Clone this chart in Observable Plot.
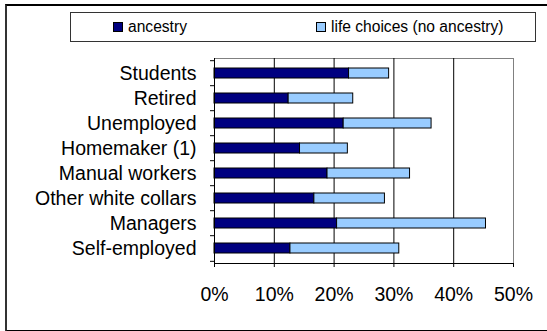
<!DOCTYPE html>
<html>
<head>
<meta charset="utf-8">
<script src="https://cdn.jsdelivr.net/npm/d3@7"></script>
<script src="https://cdn.jsdelivr.net/npm/@observablehq/plot@0.6"></script>
<style>
  html, body { margin: 0; padding: 0; background: #fff; overflow: hidden; }
  #wrap { position: relative; width: 547px; height: 331px; font-family: "Liberation Sans", Arial, sans-serif; }
  #outer { position: absolute; left: 5px; top: 4px; width: 600px; height: 324px; border-left: 2px solid #333; border-top: 2px solid #000; border-bottom: 2px solid #000; }
  #legend { position: absolute; left: 70px; top: 12px; width: 466px; height: 30px; border: 1px solid #333; box-sizing: border-box; font-size: 15.6px; }
  .item { position: absolute; top: 0; height: 28px; display: flex; align-items: center; white-space: nowrap; }
  .sw { width: 8px; height: 8px; border: 1px solid #000; margin-right: 5px; }
  #chart { position: absolute; left: 0; top: 0; }
</style>
</head>
<body>
<div id="wrap">
  <div id="outer"></div>
  <div id="chart"></div>
  <div id="legend"></div>
</div>
<script>
const categories = ["Students", "Retired", "Unemployed", "Homemaker (1)", "Manual workers", "Other white collars", "Managers", "Self-employed"];
const ancestry = [0.225, 0.124, 0.216, 0.143, 0.189, 0.167, 0.205, 0.127];
const lifeChoices = [0.067, 0.108, 0.147, 0.080, 0.138, 0.118, 0.249, 0.182];
const seriesNames = ["ancestry", "life choices (no ancestry)"];
const seriesColors = ["#000080", "#99CCFF"];
const xTicks = [0, 0.1, 0.2, 0.3, 0.4, 0.5];

const data = [];
categories.forEach((c, i) => data.push({category: c, series: seriesNames[0], value: ancestry[i]}));
categories.forEach((c, i) => data.push({category: c, series: seriesNames[1], value: lifeChoices[i]}));

const step = (331 - 58 - 68) / categories.length;

const chart = Plot.plot({
  width: 547,
  height: 331,
  marginLeft: 214,
  marginRight: 34,
  marginTop: 58,
  marginBottom: 68,
  style: {fontFamily: "Liberation Sans, Arial, sans-serif", fontSize: "19.5px", color: "#000", background: "transparent"},
  x: {domain: [0, 0.5], ticks: xTicks, tickFormat: d3.format(".0%"), tickSize: 4, tickPadding: 20, label: null},
  y: {domain: categories, paddingInner: 0.62, paddingOuter: 0.31, tickSize: 0, tickPadding: 18, label: null},
  color: {domain: seriesNames, range: seriesColors},
  marks: [
    Plot.frame({stroke: "#808080"}),
    Plot.ruleX(xTicks.slice(1, -1), {stroke: "#000", strokeWidth: 1}),
    Plot.barX(data, {y: "category", x: "value", fill: "series", stroke: "#000", strokeWidth: 1}),
    Plot.ruleX([0], {stroke: "#000"}),
    Plot.frame({anchor: "bottom", stroke: "#000"}),
    Plot.ruleY(categories, {y: d => d, x1: 0, x2: 0, insetLeft: -4, dy: -step / 2, stroke: "#000"}),
    Plot.ruleY(categories.slice(-1), {y: d => d, x1: 0, x2: 0, insetLeft: -4, dy: step / 2, stroke: "#000"})
  ]
});
document.getElementById("chart").appendChild(chart);

const legend = document.getElementById("legend");
const lefts = [42, 245];
seriesNames.forEach((s, i) => {
  const it = document.createElement("div");
  it.className = "item";
  it.style.left = lefts[i] + "px";
  const sw = document.createElement("div");
  sw.className = "sw";
  sw.style.background = seriesColors[i];
  it.appendChild(sw);
  it.appendChild(document.createTextNode(s));
  legend.appendChild(it);
});
</script>
</body>
</html>
